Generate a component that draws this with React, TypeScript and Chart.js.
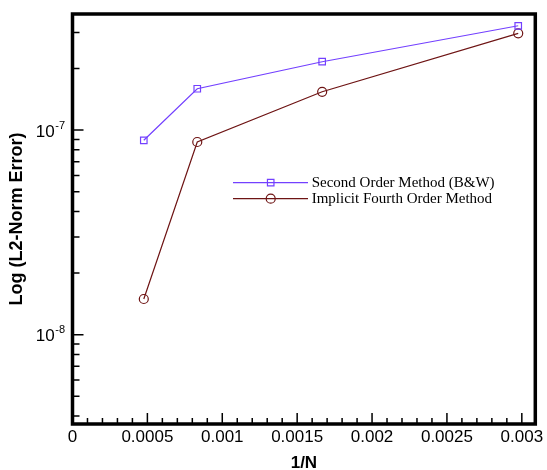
import React, { useEffect, useRef } from 'react';
import { Chart, registerables } from 'chart.js';

Chart.register(...registerables);

// ---- data ----
const inverseN = [0.000476, 0.000833, 0.001667, 0.002976];
const secondOrderError = [8.91e-8, 1.591e-7, 2.157e-7, 3.232e-7];
const fourthOrderError = [1.494e-8, 8.74e-8, 1.538e-7, 2.968e-7];
const seriesLabels = ['Second Order Method (B&W)', 'Implicit Fourth Order Method'];
const xTickValues = [0, 0.0005, 0.001, 0.0015, 0.002, 0.0025, 0.003];
const xTickLabels = ['0', '0.0005', '0.001', '0.0015', '0.002', '0.0025', '0.003'];
const xMinorStep = 0.0001;
const yDecadeExponents = [-8, -7];
const xTitle = '1/N';
const yTitle = 'Log (L2-Norm Error)';
const X_MIN = 0;
const X_MAX = 0.00309;
const Y_MIN = 3.66e-9;
const Y_MAX = 3.69e-7;

const BLUE = '#7340ff';
const BROWN = '#6e1414';
const SANS = '"Liberation Sans", Arial, Helvetica, sans-serif';
const SERIF = '"Liberation Serif", "Times New Roman", serif';

const framePlugin = {
  id: 'tecplotFrame',
  afterDatasetsDraw(chart: any) {
    const { ctx, chartArea: a, scales } = chart;
    const xs = scales.x;
    const ys = scales.y;
    ctx.save();

    // inward ticks
    ctx.strokeStyle = '#000';
    ctx.lineWidth = 1.5;
    ctx.beginPath();
    const nMinor = Math.round((X_MAX - X_MIN) / xMinorStep) + 1;
    for (let i = 1; i <= nMinor; i++) {
      const v = i * xMinorStep;
      if (v > X_MAX) break;
      const px = xs.getPixelForValue(v);
      const major = i % 5 === 0;
      ctx.moveTo(px, a.bottom);
      ctx.lineTo(px, a.bottom - (major ? 11 : 6));
    }
    for (let e = -10; e <= -5; e++) {
      for (let m = 1; m <= 9; m++) {
        const v = m * Math.pow(10, e);
        if (v < Y_MIN || v > Y_MAX) continue;
        const py = ys.getPixelForValue(v);
        ctx.moveTo(a.left, py);
        ctx.lineTo(a.left + (m === 1 ? 11 : 7), py);
      }
    }
    ctx.stroke();

    // frame
    ctx.lineWidth = 3.5;
    ctx.lineJoin = 'miter';
    ctx.strokeRect(a.left, a.top, a.right - a.left, a.bottom - a.top);

    // x tick labels
    ctx.fillStyle = '#000';
    ctx.font = `17px ${SANS}`;
    ctx.textAlign = 'center';
    ctx.textBaseline = 'alphabetic';
    xTickValues.forEach((v, i) => {
      ctx.fillText(xTickLabels[i], xs.getPixelForValue(v), a.bottom + 18);
    });

    // y tick labels (10^n)
    yDecadeExponents.forEach((e) => {
      const py = ys.getPixelForValue(Math.pow(10, e));
      const sup = String(e).replace('-', '-');
      ctx.font = `11px ${SANS}`;
      const supW = ctx.measureText(sup).width;
      const supRight = a.left - 7.5;
      ctx.textAlign = 'right';
      ctx.fillText(sup, supRight, py - 1.5);
      ctx.font = `17px ${SANS}`;
      ctx.fillText('10', supRight - supW - 0.5, py + 6.5);
    });

    // axis titles
    ctx.font = `bold 17px ${SANS}`;
    ctx.textAlign = 'center';
    ctx.fillText(xTitle, (a.left + a.right) / 2, 468);
    ctx.save();
    ctx.translate(17.5, (a.top + a.bottom) / 2);
    ctx.rotate(-Math.PI / 2);
    ctx.font = `bold 18px ${SANS}`;
    ctx.textBaseline = 'middle';
    ctx.fillText(yTitle, 0, 0);
    ctx.restore();

    // legend
    const rows = [
      { label: seriesLabels[0], color: BLUE, style: 'rect', y: 182.7 },
      { label: seriesLabels[1], color: BROWN, style: 'circle', y: 198.7 },
    ];
    rows.forEach((r) => {
      ctx.strokeStyle = r.color;
      ctx.lineWidth = 1.2;
      ctx.beginPath();
      ctx.moveTo(233, r.y);
      ctx.lineTo(308, r.y);
      ctx.stroke();
      ctx.beginPath();
      if (r.style === 'rect') {
        ctx.rect(270.7 - 3.25, r.y - 3.25, 6.5, 6.5);
      } else {
        ctx.arc(270.7, r.y, 4.5, 0, Math.PI * 2);
      }
      ctx.stroke();
      ctx.fillStyle = '#000';
      ctx.font = `15px ${SERIF}`;
      ctx.textAlign = 'left';
      ctx.textBaseline = 'middle';
      ctx.fillText(r.label, 311.7, r.y);
    });

    ctx.restore();
  },
};

export default function App() {
  const ref = useRef<HTMLCanvasElement>(null);
  useEffect(() => {
    const chart = new Chart(ref.current as HTMLCanvasElement, {
      type: 'line',
      data: {
        datasets: [
          {
            label: seriesLabels[0],
            data: inverseN.map((x, i) => ({ x, y: secondOrderError[i] })),
            borderColor: BLUE,
            borderWidth: 1.2,
            pointStyle: 'rect',
            pointRadius: 4.6,
            pointBorderColor: BLUE,
            pointBackgroundColor: 'rgba(0,0,0,0)',
            pointBorderWidth: 1.2,
            tension: 0,
            fill: false,
          },
          {
            label: seriesLabels[1],
            data: inverseN.map((x, i) => ({ x, y: fourthOrderError[i] })),
            borderColor: BROWN,
            borderWidth: 1.2,
            pointStyle: 'circle',
            pointRadius: 4.5,
            pointBorderColor: BROWN,
            pointBackgroundColor: 'rgba(0,0,0,0)',
            pointBorderWidth: 1.2,
            tension: 0,
            fill: false,
          },
        ],
      },
      options: {
        animation: false,
        responsive: false,
        events: [],
        layout: { padding: { left: 72.5, top: 14, right: 11.7, bottom: 46 } },
        scales: {
          x: { type: 'linear', min: X_MIN, max: X_MAX, display: false },
          y: { type: 'logarithmic', min: Y_MIN, max: Y_MAX, display: false },
        },
        plugins: { legend: { display: false }, tooltip: { enabled: false } },
      },
      plugins: [framePlugin],
    } as any);
    return () => chart.destroy();
  }, []);
  return (
    <div style={{ position: 'fixed', left: 0, top: 0, width: 547, height: 470, background: '#fff' }}>
      <canvas ref={ref} width={547} height={470} style={{ display: 'block', width: 547, height: 470 }} />
    </div>
  );
}
